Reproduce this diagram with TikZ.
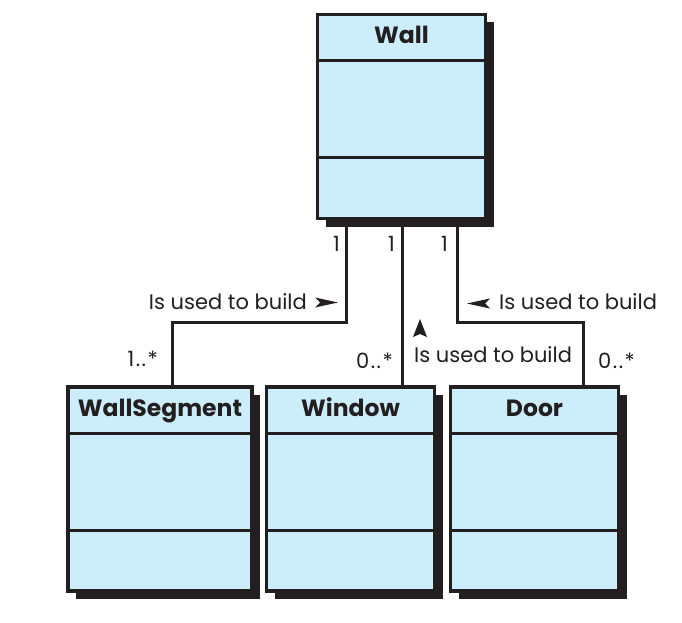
\documentclass[tikz,border=0pt]{standalone}
\usepackage{fontspec}
\setsansfont{Poppins}
\usetikzlibrary{shadows}
\definecolor{boxblue}{HTML}{CCEEFA}
\definecolor{inkblack}{HTML}{231F20}

\begin{document}
\begin{tikzpicture}[x=1pt, y=-1pt,
    classbox/.style={draw=inkblack, fill=boxblue, line width=3.2pt, inner sep=0pt, outer sep=0pt,
        minimum width=168pt, minimum height=204pt,
        drop shadow={fill=inkblack, opacity=1, shadow xshift=8pt, shadow yshift=-8pt}},
    classname/.style={font=\sffamily\bfseries\fontsize{23.5}{24}\selectfont, text=inkblack, inner sep=0pt},
    assoc/.style={draw=inkblack, line width=3pt},
    multlabel/.style={font=\sffamily\fontsize{21}{21}\selectfont, text=inkblack, inner sep=0pt}]
                \useasboundingbox (0,0) rectangle (682,623);

                % Draw the four class boxes
                \node[classbox] (wall) at (401.5,116.5) {};
                \node[classbox, minimum width=184pt] (seg) at (160,489) {};
                \node[classbox] (win) at (350.5,489) {};
                \node[classbox] (door) at (534.5,489) {};

                % Compartment lines and class names
                \foreach \c/\t in {wall/Wall, seg/WallSegment, win/Window, door/Door} {
                    \draw[assoc] ([yshift=-46.5pt]\c.north west) -- ([yshift=-46.5pt]\c.north east);
                    \draw[assoc] ([yshift=-143pt]\c.north west) -- ([yshift=-143pt]\c.north east);
                    \node[classname, anchor=base] at ([yshift=-29pt]\c.north) {\t};
                }

                % Associations
                \draw[assoc] ([xshift=-55pt]wall.south) -- ++(0,104) -| ([xshift=12pt]seg.north);
                \draw[assoc] ([xshift=0.5pt]wall.south) -- ([xshift=51.5pt]win.north);
                \draw[assoc] ([xshift=55.5pt]wall.south) -- ++(0,104) -| ([xshift=48.5pt]door.north);

                % Multiplicities
                \node[multlabel, anchor=base east] (m1) at (340,251) {1};
                \node[multlabel, anchor=base east] (m2) at (395,251) {1};
                \node[multlabel, anchor=base east] (m3) at (448,251) {1};
                \node[multlabel, anchor=base east] (m4) at (158,366) {1\kern1.5pt.\kern1.5pt.\kern1.5pt*};
                \node[multlabel, anchor=base east] (m5) at (393,368) {0\kern1.5pt.\kern1.5pt.\kern1.5pt*};
                \node[multlabel, anchor=base west] (m6) at (598,368) {0\kern1.5pt.\kern1.5pt.\kern1.5pt*};

                % Association names with their direction arrows
                \node[multlabel, anchor=base east] (nseg) at (307,309) {Is used to build};
                \fill[inkblack] (338,302.5) -- (315,297.5) -- (320,302.5) -- (315,307.5) -- cycle;
                \node[multlabel, anchor=base west] (nwin) at (414,362) {Is used to build};
                \fill[inkblack] (420,319) -- (413,337) -- (420,334) -- (427,337) -- cycle;
                \node[multlabel, anchor=base west] (ndoor) at (499,309) {Is used to build};
                \fill[inkblack] (467,303.5) -- (490,298.5) -- (485,303.5) -- (490,308.5) -- cycle;
            \end{tikzpicture}
\end{document}
